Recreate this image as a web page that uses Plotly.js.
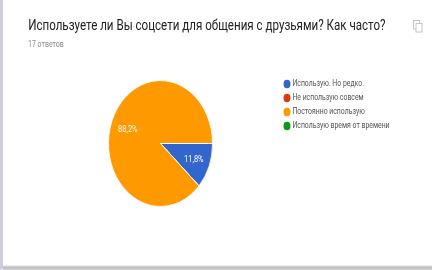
<!DOCTYPE html>
<html><head><meta charset="utf-8">
<script src="https://cdn.plot.ly/plotly-3.0.1.min.js"></script>
<style>
html{margin:0;padding:0;background:#fff;overflow:hidden;height:270px}
body{margin:0;padding:0;background:#fff;height:270px}
#c{width:432px;height:223px;transform:scaleY(1.21);transform-origin:0 0;filter:blur(0.35px)}
</style></head><body><div id="c"></div>
<script>
const categories=["Использую. Но редко.","Не использую совсем","Постоянно использую","Использую время от времени"];
const answers=[2,0,15,0];
const colors=["#3366cc","#dc3912","#ff9900","#109618"];
const legendRows=[4,3,2,1];
const legendColumn=categories.map(()=>0);
const titleText="Используете ли Вы соцсети для общения с друзьями? Как часто?";
const subtitleText="17 ответов";
const W=432,H=223;
const total=answers.reduce((a,b)=>a+b,0);
const pct=v=>(v/total*100).toFixed(1).replace(".",",")+"%";
const px=v=>v/W, py=v=>1-v/1.21/H;
const data=[
{type:"pie",labels:categories,values:answers,sort:false,direction:"clockwise",rotation:90,
 marker:{colors:colors,line:{color:"#fff",width:0.7}},
 domain:{x:[108.5/W,212.5/W],y:[1-(118.6+52)/H,1-(118.6-52)/H]},
 textinfo:"none",showlegend:false,hoverinfo:"label+percent",automargin:false},
{type:"scatter",mode:"markers+text",x:legendColumn,y:legendRows,text:categories,textposition:"middle right",
 marker:{color:colors,size:7,symbol:"circle"},textfont:{family:"Roboto",size:6.9,color:"#555"},
 xaxis:"x",yaxis:"y",showlegend:false,cliponaxis:false,hoverinfo:"text"}
];
const icon=(x0,y0,x1,y1)=>({type:"rect",xref:"paper",yref:"paper",x0:px(x0),x1:px(x1),y0:py(y0),y1:py(y1),line:{color:"#c4c4c4",width:1},fillcolor:"#fff"});
const note=(x,y,text,size,color,anchor)=>({xref:"paper",yref:"paper",x:px(x),y:py(y),xanchor:anchor,yanchor:"middle",showarrow:false,text:text,font:{family:"Roboto",size:size,color:color}});
const layout={width:W,height:H,margin:{l:0,r:0,t:0,b:0},paper_bgcolor:"#fff",plot_bgcolor:"rgba(0,0,0,0)",
 showlegend:false,
 xaxis:{domain:[287/W,432/W],range:[0,1],visible:false,fixedrange:true},
 yaxis:{domain:[py(131.5),py(78.5)],range:[0.6,4.4],visible:false,fixedrange:true},
 shapes:[
 {type:"rect",xref:"paper",yref:"paper",x0:0,x1:px(3),y0:0,y1:1,line:{width:0},fillcolor:"#cfcbe0"},
 {type:"rect",xref:"paper",yref:"paper",x0:px(3),x1:1,y0:0,y1:py(265.5),line:{width:0},fillcolor:"#dcdcdc"},
 {type:"rect",xref:"paper",yref:"paper",x0:px(3),x1:1,y0:0,y1:py(266.5),line:{width:0},fillcolor:"#c2c2c2"},
 icon(413.5,20.5,419.5,29),icon(416,23.5,422,32)
 ],
 annotations:[
 note(25.5,25.5,titleText,11.6,"#212121","left"),
 note(25.5,45,subtitleText,7,"#8a8a8a","left"),
 note(128,128.5,pct(answers[2]),7.5,"#fff","center"),
 note(193.5,159,pct(answers[0]),7.5,"#fff","center")
 ]};
Plotly.newPlot("c",data,layout,{displayModeBar:false,staticPlot:true});
</script></body></html>
